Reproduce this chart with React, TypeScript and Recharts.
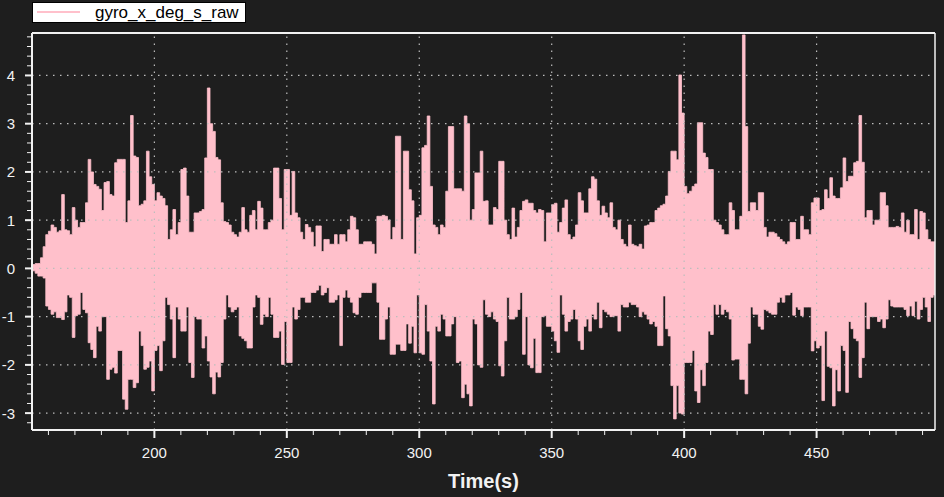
import { ComposedChart, Area, XAxis, YAxis, ReferenceLine } from "recharts"

// one value per second, starting at t = 154 s: highest and lowest sample in that second
const startTime = 154
const highs = [
  0.08, 0.1, 0.1, 0.22, 0.45, 0.7, 0.77, 0.9, 0.85, 0.75,
  0.78, 1.53, 0.8, 0.78, 0.7, 1.26, 1.0, 0.85, 0.95, 0.95,
  1.36, 2.26, 2.0, 1.74, 1.7, 1.64, 1.2, 1.78, 1.8, 1.53,
  1.5, 2.19, 2.26, 2.26, 2.26, 0.95, 1.4, 3.17, 2.33, 2.3,
  1.3, 1.33, 1.4, 2.43, 1.9, 1.74, 1.4, 1.57, 1.5, 1.45,
  1.3, 0.6, 0.8, 1.22, 0.7, 0.95, 2.05, 2.08, 1.5, 0.75,
  0.75, 1.15, 1.15, 1.18, 1.22, 2.29, 3.74, 3.0, 2.84, 2.3,
  2.25, 1.36, 0.97, 0.95, 0.9, 0.75, 0.7, 0.65, 0.75, 1.26,
  0.8, 0.75, 1.1, 1.2, 0.8, 1.39, 1.25, 0.8, 0.8, 0.95,
  1.0, 2.08, 2.08, 1.45, 0.8, 2.05, 2.05, 1.1, 2.01, 1.15,
  1.05, 0.75, 0.6, 0.91, 0.85, 0.75, 0.45, 0.88, 0.88, 0.35,
  0.6, 0.6, 0.5, 0.5, 0.7, 0.5, 0.7, 0.7, 0.55, 0.8,
  1.08, 1.05, 0.8, 0.5, 0.5, 0.55, 0.55, 0.55, 0.5, 0.3,
  1.08, 1.08, 1.1, 1.08, 1.0, 0.6, 0.85, 2.74, 2.74, 0.6,
  2.43, 2.43, 1.63, 1.4, 0.3, 1.05, 1.1, 2.5, 2.55, 3.16,
  1.7, 0.9, 0.85, 0.7, 0.9, 0.85, 1.6, 2.94, 2.94, 1.65,
  1.65, 1.65, 1.6, 3.16, 3.0, 1.0, 1.22, 1.98, 1.98, 2.43,
  1.39, 1.4, 0.9, 0.9, 1.26, 1.22, 2.22, 2.22, 1.0, 0.7,
  0.6, 1.25, 0.65, 0.85, 1.2, 1.39, 1.42, 1.35, 1.35, 1.2,
  1.15, 1.22, 1.2, 0.55, 1.15, 1.15, 1.32, 1.35, 0.75, 0.95,
  1.25, 1.42, 0.7, 0.6, 0.65, 0.9, 1.57, 1.4, 1.15, 1.15,
  1.65, 1.9, 1.85, 1.4, 1.1, 1.29, 1.15, 1.05, 1.36, 0.85,
  0.8, 1.0, 0.6, 0.5, 0.45, 0.9, 0.5, 0.47, 0.45, 0.5,
  0.4, 0.88, 0.9, 0.95, 0.95, 1.2, 1.25, 1.3, 1.33, 1.5,
  2.01, 2.43, 2.43, 2.25, 4.01, 3.22, 1.7, 1.55, 1.6, 1.7,
  1.75, 3.02, 3.02, 2.39, 2.3, 2.05, 2.05, 1.0, 0.95, 0.9,
  0.8, 0.7, 0.7, 1.36, 1.2, 0.8, 0.8, 1.08, 4.84, 2.94,
  1.18, 1.36, 1.36, 1.2, 1.57, 1.57, 0.85, 0.65, 0.75, 0.75,
  0.72, 0.65, 0.6, 0.55, 0.5, 0.55, 0.95, 0.95, 0.6, 0.6,
  1.08, 0.8, 0.8, 0.7, 1.36, 1.46, 1.46, 1.2, 1.22, 1.63,
  1.45, 1.88, 1.5, 1.45, 1.45, 1.67, 2.29, 1.8, 1.91, 1.91,
  2.19, 2.22, 3.17, 2.2, 1.05, 1.2, 1.2, 0.9, 1.0, 1.0,
  1.57, 1.57, 1.3, 0.85, 0.85, 0.85, 0.87, 0.85, 1.15, 0.75,
  1.0, 0.7, 0.7, 1.22, 0.6, 1.18, 1.15, 0.8, 0.6, 0.55,
  0.55,
]
const lows = [
  -0.05, -0.1, -0.16, -0.16, -0.2, -0.78, -0.85, -0.95, -0.9, -1.02,
  -1.02, -1.06, -0.9, -0.55, -0.6, -1.43, -0.98, -0.95, -0.5, -0.85,
  -0.92, -1.54, -1.68, -1.85, -1.2, -1.3, -1.0, -1.0, -2.3, -2.09,
  -2.05, -2.17, -1.7, -1.7, -2.71, -2.92, -2.3, -2.3, -2.47, -2.37,
  -1.3, -1.6, -2.09, -2.05, -1.92, -2.54, -1.7, -1.6, -2.12, -1.5,
  -0.6, -0.75, -1.05, -1.85, -0.8, -1.05, -1.3, -1.3, -0.8, -1.95,
  -2.26, -1.0, -1.05, -1.05, -1.65, -1.4, -1.92, -2.25, -2.6, -2.15,
  -2.25, -1.95, -1.05, -0.55, -0.8, -0.9, -0.85, -0.8, -1.4, -1.45,
  -1.5, -1.65, -1.65, -0.8, -0.55, -0.6, -1.16, -0.95, -1.0, -0.6,
  -0.95, -1.43, -1.43, -1.3, -1.99, -1.1, -1.95, -1.95, -0.8, -1.05,
  -0.85, -0.6, -0.6, -0.7, -0.7, -0.5, -0.5, -0.45, -0.35, -0.55,
  -0.5, -0.4, -0.7, -0.7, -0.65, -0.55, -1.6, -0.6, -0.45, -0.6,
  -0.7, -0.92, -0.95, -0.6, -0.5, -0.5, -0.5, -0.5, -0.3, -0.3,
  -0.7, -1.47, -1.47, -1.05, -0.8, -1.78, -1.78, -1.57, -1.57, -1.7,
  -1.7, -1.15, -1.55, -1.2, -1.75, -0.55, -1.75, -1.78, -0.75, -1.3,
  -1.92, -2.81, -1.2, -1.3, -0.95, -1.05, -1.4, -1.4, -1.15, -1.0,
  -1.95, -1.92, -2.68, -2.4, -2.6, -2.85, -1.05, -1.15, -2.0, -2.05,
  -0.65, -0.95, -1.0, -0.9, -1.05, -1.1, -2.02, -2.23, -1.5, -0.6,
  -1.05, -1.05, -1.0, -0.85, -0.5, -1.78, -1.0, -2.0, -2.06, -1.45,
  -2.16, -2.16, -1.0, -0.98, -1.2, -1.2, -1.3, -1.5, -1.74, -0.55,
  -0.95, -1.3, -1.1, -1.05, -0.85, -1.05, -1.5, -1.68, -1.2, -1.05,
  -1.3, -0.95, -1.05, -0.7, -1.23, -0.85, -0.9, -0.95, -1.0, -0.98,
  -0.98, -1.3, -0.75, -0.8, -0.8, -0.7, -0.75, -0.75, -0.8, -1.0,
  -0.9, -0.95, -1.05, -1.15, -1.1, -1.2, -1.6, -1.6, -0.57, -1.25,
  -1.4, -2.43, -3.12, -2.43, -3.0, -3.02, -1.95, -1.95, -1.95, -1.7,
  -2.54, -2.78, -2.1, -2.43, -1.95, -1.3, -1.37, -0.75, -0.95, -0.75,
  -0.95, -0.85, -0.9, -1.05, -1.9, -1.88, -1.88, -2.3, -2.3, -2.6,
  -1.55, -0.8, -0.95, -0.95, -1.2, -1.26, -0.85, -0.88, -0.92, -0.95,
  -0.95, -0.7, -0.6, -0.7, -0.55, -0.55, -0.5, -0.97, -0.8, -0.85,
  -0.98, -0.8, -0.8, -0.8, -1.71, -1.5, -1.65, -1.6, -2.74, -1.3,
  -2.03, -2.06, -2.85, -2.1, -2.54, -1.6, -1.7, -2.57, -1.1, -1.25,
  -1.45, -1.5, -2.26, -1.85, -0.7, -1.25, -1.0, -1.0, -1.0, -1.1,
  -1.05, -1.23, -1.05, -0.65, -0.78, -0.8, -0.8, -0.8, -0.8, -0.85,
  -0.98, -0.78, -0.98, -0.68, -1.05, -0.85, -0.6, -0.8, -1.1, -0.6,
  -0.55,
]

const xMajorTicks = [200, 250, 300, 350, 400, 450]
const yMajorTicks = [-3, -2, -1, 0, 1, 2, 3, 4]
const xDomain = [153.8, 494.7]
const yDomain = [-3.35, 4.88]

// each second is a step from its low to its high
const data: { t: number; range: [number, number] }[] = highs.map((h, i) => ({
  t: startTime + i,
  range: [lows[i], h],
}))
data.push({ t: startTime + highs.length, range: [lows[lows.length - 1], highs[highs.length - 1]] })

const xTicks: number[] = []
for (let v = 160; v <= 490; v += 10) xTicks.push(v)
const yTicks: number[] = []
for (let k = -16; k <= 24; k++) yTicks.push(Math.round(k * 2) / 10)

const isWhole = (v: number) => Math.abs(v - Math.round(v)) < 1e-6
const font = '"Liberation Sans", Arial, sans-serif'
const axisColor = "#f2f2f2"
const gridColor = "#bdbdbd"
const pink = "#ffc0cb"

function XTick(props: any) {
  const { x, y, payload } = props
  const major = payload.value % 50 === 0
  return (
    <g>
      <line x1={x} x2={x} y1={y} y2={y + (major ? 8 : 5)} stroke={axisColor} strokeWidth={major ? 2 : 1} />
      {major && (
        <text x={x} y={y + 28} textAnchor="middle" fill={axisColor} fontSize={15} fontFamily={font}>
          {payload.value}
        </text>
      )}
    </g>
  )
}

function YTick(props: any) {
  const { x, y, payload } = props
  const major = isWhole(payload.value)
  return (
    <g>
      <line x1={x - (major ? 7 : 5)} x2={x} y1={y} y2={y} stroke={axisColor} strokeWidth={major ? 2 : 1} />
      {major && (
        <text x={x - 17} y={y + 5.5} textAnchor="end" fill={axisColor} fontSize={15} fontFamily={font}>
          {Math.round(payload.value)}
        </text>
      )}
    </g>
  )
}

export default function App() {
  return (
    <div
      style={{
        position: "absolute",
        left: 0,
        top: 0,
        width: 944,
        height: 497,
        background: "#1e1e1e",
        fontFamily: font,
      }}
    >
      <ComposedChart width={944} height={497} data={data} margin={{ top: 33, right: 9, left: 0, bottom: 0 }}>
        <XAxis
          dataKey="t"
          type="number"
          domain={xDomain}
          allowDataOverflow
          ticks={xTicks}
          interval={0}
          tickSize={0}
          tickMargin={0}
          tickLine={false}
          tick={<XTick />}
          height={67}
          axisLine={{ stroke: axisColor, strokeWidth: 2 }}
          label={{ value: "Time(s)", position: "insideBottom", offset: 9, fill: axisColor, fontSize: 20, fontWeight: "bold", fontFamily: font }}
        />
        <YAxis
          type="number"
          domain={yDomain}
          allowDataOverflow
          ticks={yTicks}
          interval={0}
          tickSize={0}
          tickMargin={0}
          tickLine={false}
          tick={<YTick />}
          width={32}
          axisLine={{ stroke: axisColor, strokeWidth: 2 }}
        />
        {xMajorTicks.map((v) => (
          <ReferenceLine key={"gx" + v} x={v} stroke={gridColor} strokeDasharray="1.5 5.5" strokeWidth={1.2} />
        ))}
        {yMajorTicks.map((v) => (
          <ReferenceLine key={"gy" + v} y={v} stroke={gridColor} strokeDasharray="1.5 5.5" strokeWidth={1.2} />
        ))}
        <ReferenceLine y={yDomain[1]} stroke={axisColor} strokeWidth={2} />
        <ReferenceLine x={xDomain[1]} stroke={axisColor} strokeWidth={1.5} />
        <Area
          dataKey="range"
          type="stepAfter"
          stroke={pink}
          strokeWidth={0.8}
          fill={pink}
          fillOpacity={1}
          dot={false}
          activeDot={false}
          isAnimationActive={false}
        />
      </ComposedChart>
      <div
        style={{
          position: "absolute",
          left: 32,
          top: 2,
          width: 214,
          height: 21,
          boxSizing: "border-box",
          background: "#ffffff",
          border: "1px solid #000",
        }}
      >
        <svg width={212} height={19} style={{ display: "block" }}>
          <line x1={4} x2={47} y1={9} y2={9} stroke={pink} strokeWidth={2} />
          <text x={62} y={14.5} fontSize={17} fill="#000" fontFamily={font}>
            gyro_x_deg_s_raw
          </text>
        </svg>
      </div>
    </div>
  )
}
